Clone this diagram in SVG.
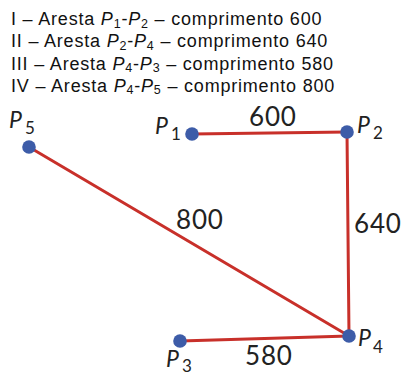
<svg xmlns="http://www.w3.org/2000/svg" width="402" height="372" viewBox="0 0 402 372">
<style>
.hd{font-family:"Liberation Sans",Arial,sans-serif;font-size:18px;letter-spacing:0.8px;fill:#111}
.it{font-style:italic}
.sb{font-size:12.5px}
.edge{stroke:#c8302a;stroke-width:3;fill:none;stroke-linecap:round}
.node{fill:#3d5ca8}
.lbl{font-family:Lato,"Open Sans",sans-serif;font-size:23px;font-style:italic;fill:#222}
.sub{font-family:Lato,"Open Sans",sans-serif;font-size:17px;fill:#222}
.num{font-family:Lato,"Open Sans",sans-serif;font-size:26px;fill:#222;letter-spacing:0.8px}
</style>
<rect width="402" height="372" fill="#fff"/>
<g id="legend">
<text class="hd" x="11" y="25">I – Aresta <tspan class="it">P</tspan><tspan class="sb" dy="2.5">1</tspan><tspan dy="-2.5">-</tspan><tspan class="it">P</tspan><tspan class="sb" dy="2.5">2</tspan><tspan dy="-2.5"> – comprimento 600</tspan></text>
<text class="hd" x="11" y="47.3">II – Aresta <tspan class="it">P</tspan><tspan class="sb" dy="2.5">2</tspan><tspan dy="-2.5">-</tspan><tspan class="it">P</tspan><tspan class="sb" dy="2.5">4</tspan><tspan dy="-2.5"> – comprimento 640</tspan></text>
<text class="hd" x="11" y="69.5">III – Aresta <tspan class="it">P</tspan><tspan class="sb" dy="2.5">4</tspan><tspan dy="-2.5">-</tspan><tspan class="it">P</tspan><tspan class="sb" dy="2.5">3</tspan><tspan dy="-2.5"> – comprimento 580</tspan></text>
<text class="hd" x="11" y="91.7">IV – Aresta <tspan class="it">P</tspan><tspan class="sb" dy="2.5">4</tspan><tspan dy="-2.5">-</tspan><tspan class="it">P</tspan><tspan class="sb" dy="2.5">5</tspan><tspan dy="-2.5"> – comprimento 800</tspan></text>
</g>
<g id="edges">
<line class="edge" x1="192" y1="134" x2="347" y2="132"/>
<line class="edge" x1="347" y1="132" x2="349" y2="336"/>
<line class="edge" x1="29" y1="147" x2="349" y2="336"/>
<line class="edge" x1="180" y1="341" x2="349" y2="336"/>
<text class="num" x="249" y="126">600</text>
<text class="num" x="354" y="233">640</text>
<text class="num" x="176" y="229">800</text>
<text class="num" x="245" y="365">580</text>
</g>
<g id="P1"><circle class="node" cx="192" cy="134" r="6.8"/><text class="lbl" x="155" y="134">P</text><text class="sub" x="171" y="140">1</text></g>
<g id="P2"><circle class="node" cx="347" cy="132" r="6.8"/><text class="lbl" x="357" y="133">P</text><text class="sub" x="373" y="139">2</text></g>
<g id="P3"><circle class="node" cx="180" cy="341" r="6.8"/><text class="lbl" x="166" y="367">P</text><text class="sub" x="182" y="371.5">3</text></g>
<g id="P4"><circle class="node" cx="349" cy="336" r="6.8"/><text class="lbl" x="358" y="346">P</text><text class="sub" x="373" y="353">4</text></g>
<g id="P5"><circle class="node" cx="29" cy="147" r="6.8"/><text class="lbl" x="9" y="128">P</text><text class="sub" x="25" y="134">5</text></g>
</svg>
